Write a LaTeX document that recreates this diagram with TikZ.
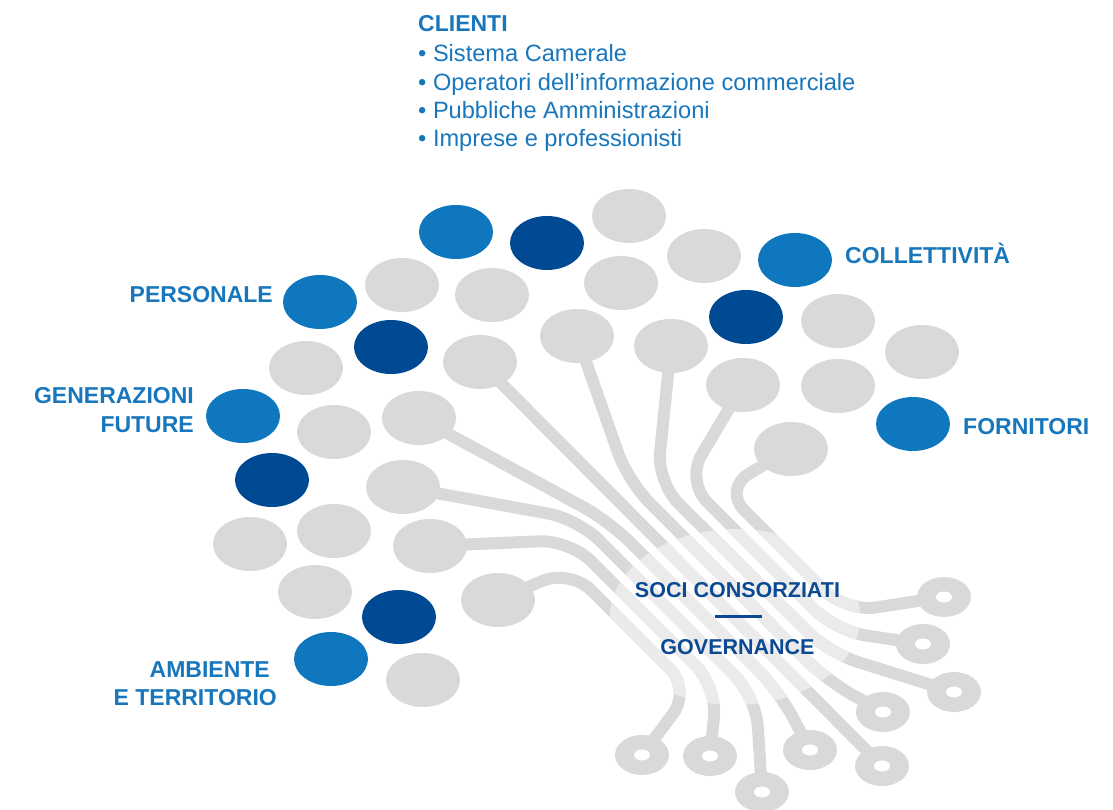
\documentclass[tikz,border=0pt]{standalone}
\usepackage{fontspec}
\setmainfont{Liberation Sans}
\usetikzlibrary{shapes.geometric}
\pgfdeclarelayer{background}
\pgfsetlayers{background,main}
\definecolor{midblue}{HTML}{0F77BD}
\definecolor{darkblue}{HTML}{004A94}
\definecolor{dotgray}{HTML}{D9D9D9}
\definecolor{lightgray}{HTML}{EBEBEB}
\definecolor{textblue}{HTML}{1877BC}
\definecolor{textdark}{HTML}{0B4A93}
\newcommand{\drawtraces}[1]{%
  \draw[trace,#1] (s1.center) -- (723,489) -- (846,612) -- (r1.center);
  \draw[trace,#1] (s2.center) -- (686,481) -- (836,631) -- (r2.center);
  \draw[trace,#1] (s3.center) -- (657,482) -- (829,653) -- (r3.center);
  \draw[trace,#1] (s4.center) -- (628,481) -- (826,680) -- (r4.center);
  \draw[trace,#1] (s5.center) -- (r5.center);
  \draw[trace,#1] (s6.center) -- (609,521) -- (779,691) -- (r6.center);
  \draw[trace,#1] (s7.center) -- (578,519) -- (756,697) -- (r7.center);
  \draw[trace,#1] (s8.center) -- (570,540) -- (717,687) -- (r8.center);
  \draw[trace,#1] (s9.center) -- (570,569) -- (691,690) -- (r9.center);
}
\tikzset{
  dot/.style={ellipse, inner sep=0pt, minimum width=74pt, minimum height=54pt},
  graydot/.style={dot, fill=dotgray},
  bluedot/.style={dot, fill=midblue},
  darkdot/.style={dot, fill=darkblue},
  ringpad/.style={ellipse, inner sep=0pt, minimum width=54pt, minimum height=40pt, fill=dotgray,
    path picture={\fill[white] (path picture bounding box.center) ellipse [x radius=8pt, y radius=5.5pt];}},
  trace/.style={draw=dotgray, line width=12pt, rounded corners=30pt},
  label/.style={text=textblue, font=\bfseries\fontsize{23}{28}\selectfont, inner sep=0pt},
  item/.style={text=textblue, font=\fontsize{23.6}{28}\selectfont, inner sep=0pt, anchor=base west},
  center/.style={text=textdark, font=\bfseries\fontsize{21.5}{26}\selectfont, inner sep=0pt, anchor=base},
}
\begin{document}
\begin{tikzpicture}[x=1pt,y=-1pt]
\useasboundingbox (0,0) rectangle (1113,810);
% dots
\node[bluedot] (d1) at (456,232) {};
\node[darkdot] (d2) at (547,243) {};
\node[graydot] (d3) at (629,216) {};
\node[graydot] (d4) at (704,256) {};
\node[bluedot] (d5) at (795,260) {};
\node[graydot] (d6) at (402,285) {};
\node[graydot] (d7) at (492,295) {};
\node[graydot] (d8) at (621,283) {};
\node[bluedot] (d9) at (320,302) {};
\node[darkdot] (d10) at (746,317) {};
\node[graydot] (d11) at (838,321) {};
\node[graydot] (d12) at (922,352) {};
\node[darkdot] (d13) at (391,347) {};
\node[graydot] (s4) at (577,336) {};
\node[graydot] (s3) at (671,346) {};
\node[graydot] (d16) at (306,368) {};
\node[graydot] (s5) at (480,362) {};
\node[graydot] (s2) at (743,385) {};
\node[graydot] (d19) at (838,386) {};
\node[bluedot] (d20) at (243,416) {};
\node[graydot] (s6) at (419,418) {};
\node[graydot] (d22) at (334,432) {};
\node[bluedot] (d23) at (913,424) {};
\node[graydot] (s1) at (791,449) {};
\node[darkdot] (d25) at (272,480) {};
\node[graydot] (s7) at (403,487) {};
\node[graydot] (d27) at (250,544) {};
\node[graydot] (d28) at (334,531) {};
\node[graydot] (s8) at (430,546) {};
\node[graydot] (d30) at (315,592) {};
\node[graydot] (s9) at (498,600) {};
\node[darkdot] (d32) at (399,617) {};
\node[bluedot] (d33) at (331,659) {};
\node[graydot] (d34) at (423,680) {};
% rings
\node[ringpad] (r1) at (944,597) {};
\node[ringpad] (r2) at (923,644) {};
\node[ringpad] (r3) at (954,692) {};
\node[ringpad] (r4) at (883,712) {};
\node[ringpad] (r5) at (882,766) {};
\node[ringpad] (r6) at (810,750) {};
\node[ringpad] (r7) at (762,792) {};
\node[ringpad] (r8) at (710,756) {};
\node[ringpad] (r9) at (642,755) {};
% traces
\begin{pgfonlayer}{background}
\drawtraces{}
\begin{scope}
\clip (735,617) ellipse [x radius=125pt, y radius=88pt];
\drawtraces{draw=lightgray}
\end{scope}
\end{pgfonlayer}
% texts
\node[label, anchor=base west] (clienti) at (418,32) {CLIENTI};
\node[item] (i1) at (418,62) {• Sistema Camerale};
\node[item] (i2) at (418,90.5) {• Operatori dell’informazione commerciale};
\node[item] (i3) at (418,119) {• Pubbliche Amministrazioni};
\node[item] (i4) at (418,147) {• Imprese e professionisti};
\node[label, anchor=base east] (personale) at (273,302) {PERSONALE};
\node[label, anchor=base east] (gen1) at (194,403) {GENERAZIONI};
\node[label, anchor=base east] (gen2) at (194,432) {FUTURE};
\node[label, anchor=base west] (coll) at (845,263) {COLLETTIVITÀ};
\node[label, anchor=base west] (forn) at (963,434) {FORNITORI};
\node[label, anchor=base east] (amb1) at (270,677) {AMBIENTE};
\node[label, anchor=base east] (amb2) at (277,705) {E TERRITORIO};
\node[center] (soci) at (737.5,597) {SOCI CONSORZIATI};
\node[fill=textdark, inner sep=0pt, minimum width=47pt, minimum height=3pt] (sep) at (738,616) {};
\node[center] (gov) at (737.5,654) {GOVERNANCE};
\end{tikzpicture}
\end{document}
